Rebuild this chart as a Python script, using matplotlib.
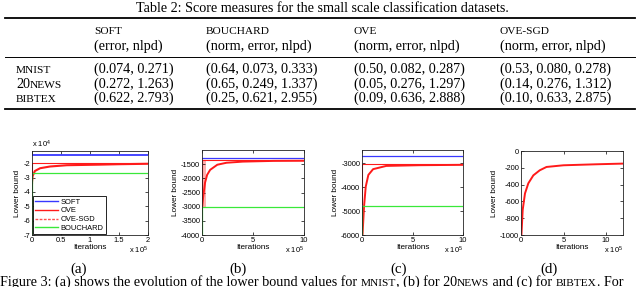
import matplotlib
matplotlib.use('Agg')
import matplotlib.pyplot as plt
from matplotlib import ticker
from matplotlib.lines import Line2D

plt.rcParams['font.family'] = 'Liberation Sans'
plt.rcParams['mathtext.fontset'] = 'custom'
plt.rcParams['mathtext.rm'] = 'Liberation Sans'
plt.rcParams['mathtext.it'] = 'Liberation Sans:italic'

# ---- Table 2 data ----
table_title = 'Table 2: Score measures for the small scale classification datasets.'
methods = ['SOFT', 'BOUCHARD', 'OVE', 'OVE-SGD']
measures = ['(error, nlpd)', '(norm, error, nlpd)', '(norm, error, nlpd)', '(norm, error, nlpd)']
datasets = [[('MNIST', True)], [('20', False), ('NEWS', True)], [('BIBTEX', True)]]
soft_scores = ['(0.074, 0.271)', '(0.272, 1.263)', '(0.622, 2.793)']
bouchard_scores = ['(0.64, 0.073, 0.333)', '(0.65, 0.249, 1.337)', '(0.25, 0.621, 2.955)']
ove_scores = ['(0.50, 0.082, 0.287)', '(0.05, 0.276, 1.297)', '(0.09, 0.636, 2.888)']
ovesgd_scores = ['(0.53, 0.080, 0.278)', '(0.14, 0.276, 1.312)', '(0.10, 0.633, 2.875)']

# ---- Figure 3 data (iterations, lower bound) ----
# (a) MNIST
a_soft_it, a_soft_lb = [0, 2e5], [-14200, -14200]
a_ove_it, a_ove_lb = [0, 0, 2e5], [-34000, -19800, -19800]
a_sgd_it = [0, 1e3, 5e3, 1.4e4, 3.1e4, 6e4, 1.17e5, 1.5e5, 2e5]
a_sgd_lb = [-33000, -29000, -25400, -23500, -22300, -21400, -21000, -20700, -20400]
a_bou_it, a_bou_lb = [0, 0, 2e5], [-75000, -26500, -26500]

# (b) 20NEWS
b_soft_it, b_soft_lb = [0, 1e6], [-1290, -1290]
b_ove_it, b_ove_lb = [0, 0, 1e6], [-3000, -1350, -1350]
b_sgd_it = [0, 1e4, 3e4, 5e4, 8e4, 1.5e5, 2.4e5, 4e5, 7e5, 1e6]
b_sgd_lb = [-3050, -2700, -2150, -1880, -1700, -1520, -1450, -1410, -1385, -1380]
b_band_it, b_band_lo, b_band_hi = [0, 3.5e4], -3000, -1380
b_bou_it, b_bou_lb = [0, 0, 1e6], [-4100, -3000, -3000]

# (c) BIBTEX
c_soft_it, c_soft_lb = [0, 1e6], [-2720, -2720]
c_ove_it, c_ove_lb = [0, 0, 1e6], [-4700, -3030, -3030]
c_sgd_it = [5e3, 2e4, 3.7e4, 6.3e4, 1.1e5, 2.4e5, 5.7e5, 1e6]
c_sgd_lb = [-6000, -4820, -3980, -3490, -3250, -3115, -3085, -3070]
c_bou_it, c_bou_lb = [0, 0, 1e6], [-6100, -4775, -4775]

# (d)
d_sgd_it = [5e3, 2e4, 4.7e4, 8.6e4, 1.45e5, 2.2e5, 3e5, 5e5, 8.9e5, 1.2e6]
d_sgd_lb = [-1000, -700, -505, -385, -290, -230, -190, -170, -158, -150]

BLUE, RED, GREEN, PINK = '#3838ff', '#ff1a1a', '#3ae83a', '#ffb0b0'
SERIF = 'Liberation Serif'
FS = 10.2
TICK_FS, LAB_FS = 5.4, 5.9

fig = plt.figure(figsize=(6.4, 2.87), dpi=100)
W, H = 640, 287
over = fig.add_axes([0, 0, 1, 1])
over.set_xlim(0, W)
over.set_ylim(H, 0)
over.axis('off')
renderer = fig.canvas.get_renderer()


def runs(x, y, parts, size=FS):
    for txt, sc in parts:
        t = over.text(x, y, txt, fontsize=size * 0.8 if sc else size,
                      family=SERIF, va='baseline', ha='left')
        x += t.get_window_extent(renderer).width


# table
over.text(322, 12, table_title, fontsize=FS, family=SERIF, ha='center', va='baseline')
over.plot([5, 635], [18, 18], color='k', lw=1.3)
over.plot([5, 635], [57, 57], color='k', lw=0.7)
over.plot([5, 635], [109, 109], color='k', lw=1.3)
col_x = [94, 206, 354, 500]
for cx, m, ms in zip(col_x, methods, measures):
    runs(cx, 34, [(m, True)])
    runs(cx, 50, [(ms, False)])
row_y = [73, 88, 102]
for ry, ds in zip(row_y, datasets):
    runs(16, ry, ds)
for cx, col in zip(col_x, [soft_scores, bouchard_scores, ove_scores, ovesgd_scores]):
    for ry, s in zip(row_y, col):
        runs(cx, ry, [(s, False)])


def add_ax(x0, y0, x1, y1):
    return fig.add_axes([x0 / W, (H - y1) / H, (x1 - x0) / W, (y1 - y0) / H])


def style(ax, xlim, ylim, xticks, yticks, yscale):
    ax.set_xlim(xlim)
    ax.set_ylim(ylim)
    ax.set_xticks(xticks)
    ax.set_yticks(yticks)
    ax.xaxis.set_major_formatter(ticker.FuncFormatter(lambda v, p: f'{v / 1e5:g}'))
    ax.yaxis.set_major_formatter(ticker.FuncFormatter(lambda v, p: f'{v / yscale:g}'))
    ax.tick_params(direction='in', length=2, width=0.5, labelsize=TICK_FS, pad=1.3,
                   top=True, right=True)
    for s in ax.spines.values():
        s.set_linewidth(0.6)
        s.set_color('#222222')
    ax.set_xlabel('Iterations', fontsize=LAB_FS, labelpad=0.3)
    ax.set_ylabel('Lower bound', fontsize=LAB_FS, labelpad=1.5)


# (a)
ax = add_ax(32, 151, 148, 235)
ax.plot(a_soft_it, a_soft_lb, color=BLUE, lw=1.3)
ax.plot(a_ove_it, a_ove_lb, color=RED, lw=0.8)
ax.plot(a_sgd_it, a_sgd_lb, color=RED, lw=1.5)
ax.plot(a_bou_it, a_bou_lb, color=GREEN, lw=0.9)
style(ax, (0, 2e5), (-70000, -11500), [0, 0.5e5, 1e5, 1.5e5, 2e5],
      [-70000, -60000, -50000, -40000, -30000, -20000], 1e4)
handles = [Line2D([], [], color=BLUE, lw=1), Line2D([], [], color=RED, lw=1),
           Line2D([], [], color='#ff5050', lw=1, ls=(0, (2, 1))),
           Line2D([], [], color=GREEN, lw=1)]
leg = ax.legend(handles, ['SOFT', 'OVE', 'OVE-SGD', 'BOUCHARD'], loc='lower left',
                fontsize=5.4, fancybox=False, edgecolor='k', framealpha=1,
                borderaxespad=0.1, handlelength=3.0, labelspacing=0.2,
                handletextpad=0.4, borderpad=0.3)
leg.get_frame().set_linewidth(0.6)
over.text(32, 148, 'x 10$^{4}$', fontsize=TICK_FS, ha='left', va='baseline')
over.text(148, 254, 'x 10$^{5}$', fontsize=TICK_FS, ha='right', va='baseline')

# (b)
ax = add_ax(202, 150, 304, 235)
ax.fill_between(b_band_it, b_band_lo, b_band_hi, color=PINK, lw=0)
ax.plot(b_soft_it, b_soft_lb, color=BLUE, lw=0.9)
ax.plot(b_ove_it, b_ove_lb, color=RED, lw=0.8)
ax.plot(b_sgd_it, b_sgd_lb, color=RED, lw=1.4)
ax.plot(b_bou_it, b_bou_lb, color=GREEN, lw=0.9)
style(ax, (0, 1e6), (-4000, -1000), [0, 5e5, 1e6],
      [-4000, -3500, -3000, -2500, -2000, -1500], 1)
over.text(304, 254, 'x 10$^{5}$', fontsize=TICK_FS, ha='right', va='baseline')

# (c)
ax = add_ax(362, 150, 463, 235)
ax.plot(c_soft_it, c_soft_lb, color=BLUE, lw=0.9)
ax.plot(c_ove_it, c_ove_lb, color=RED, lw=0.8)
ax.plot(c_sgd_it, c_sgd_lb, color=RED, lw=1.4)
ax.plot(c_bou_it, c_bou_lb, color=GREEN, lw=0.9)
style(ax, (0, 1e6), (-6000, -2450), [0, 5e5, 1e6],
      [-6000, -5000, -4000, -3000], 1)
over.text(463, 254, 'x 10$^{5}$', fontsize=TICK_FS, ha='right', va='baseline')

# (d)
ax = add_ax(521, 151, 623, 235)
ax.plot(d_sgd_it, d_sgd_lb, color=RED, lw=1.4)
style(ax, (0, 1.2e6), (-1000, 0), [0, 5e5, 1e6],
      [-1000, -800, -600, -400, -200, 0], 1)
over.text(623, 254, 'x 10$^{5}$', fontsize=TICK_FS, ha='right', va='baseline')

# sub-captions and figure caption
for cx, lab in zip([79, 238, 399, 549], ['(a)', '(b)', '(c)', '(d)']):
    over.text(cx, 273, lab, fontsize=FS + 0.6, family=SERIF, ha='center', va='baseline')
runs(0, 286, [('Figure 3: (a) shows the evolution of the lower bound values for ', False),
              ('MNIST', True), (', (b) for 20', False), ('NEWS', True),
              (' and (c) for ', False), ('BIBTEX', True), ('. For', False)])

fig.savefig('out.png', dpi=100)
